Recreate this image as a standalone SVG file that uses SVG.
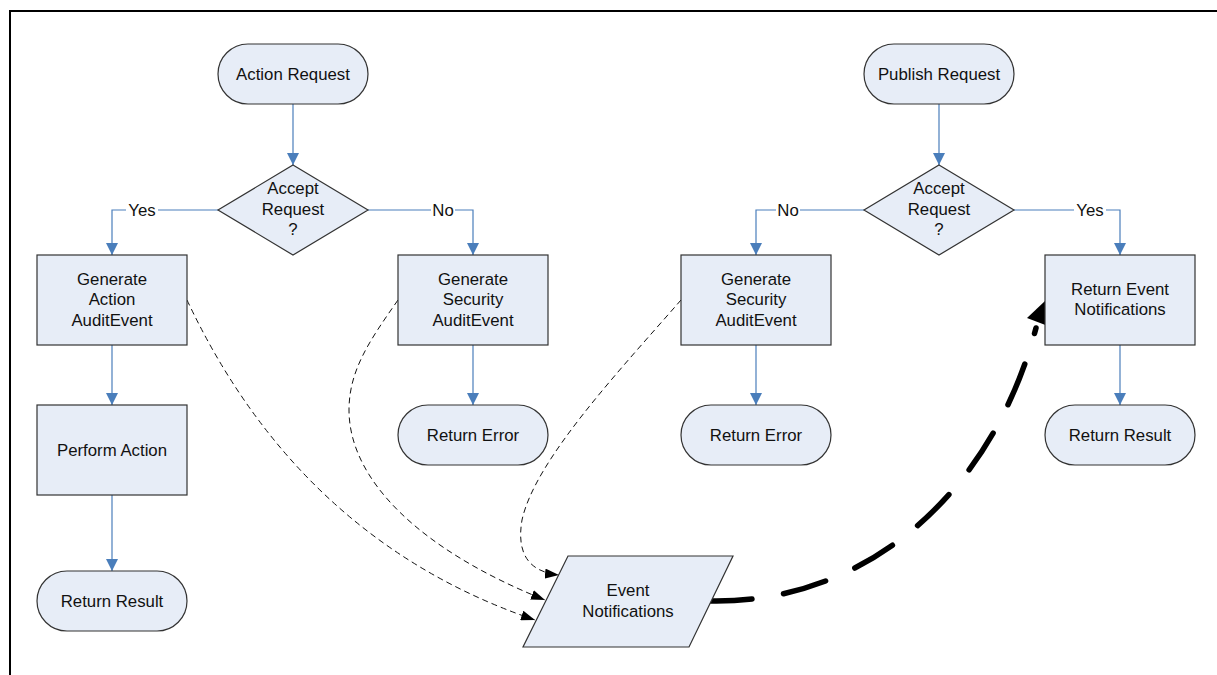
<svg xmlns="http://www.w3.org/2000/svg" width="1217" height="675" viewBox="0 0 1217 675">
<style>
.node{fill:#e7edf7;stroke:#333;stroke-width:1.2}
.t{font-family:"Liberation Sans",Arial,sans-serif;font-size:16.8px;fill:#111;text-anchor:middle}
.blue{fill:none;stroke:#4a7ebb;stroke-width:1.2}
.thin{fill:none;stroke:#111;stroke-width:1;stroke-dasharray:6 4}
.thick{fill:none;stroke:#000;stroke-width:5.5;stroke-linecap:round;stroke-dasharray:44 32}
.lbl{fill:#fff}
</style>
<defs>
<marker id="ab" markerUnits="userSpaceOnUse" markerWidth="12" markerHeight="12" refX="10" refY="5" orient="auto" viewBox="0 0 10 10"><path d="M0,0 L10,5 L0,10 Z" fill="#4a7ebb"/></marker>
<marker id="ak" markerUnits="userSpaceOnUse" markerWidth="14" markerHeight="10" refX="14" refY="5" orient="auto" viewBox="0 0 14 10"><path d="M0,0 L14,5 L0,10 Z" fill="#000"/></marker>
</defs>
<rect x="10" y="11" width="1220" height="680" fill="none" stroke="#000" stroke-width="2"/>

<g id="connectors">
<path class="blue" d="M293,104 V165" marker-end="url(#ab)"/>
<path class="blue" d="M218,210 H112 V255" marker-end="url(#ab)"/>
<path class="blue" d="M368,210 H473 V255" marker-end="url(#ab)"/>
<path class="blue" d="M112,345 V405" marker-end="url(#ab)"/>
<path class="blue" d="M112,495 V571" marker-end="url(#ab)"/>
<path class="blue" d="M473,345 V405" marker-end="url(#ab)"/>
<path class="blue" d="M939,104 V165" marker-end="url(#ab)"/>
<path class="blue" d="M864,210 H756 V255" marker-end="url(#ab)"/>
<path class="blue" d="M1014,210 H1120 V255" marker-end="url(#ab)"/>
<path class="blue" d="M756,345 V405" marker-end="url(#ab)"/>
<path class="blue" d="M1120,345 V405" marker-end="url(#ab)"/>
<rect class="lbl" x="126" y="201" width="32" height="18"/>
<text class="t" x="142" y="216">Yes</text>
<rect class="lbl" x="431" y="201" width="24" height="18"/>
<text class="t" x="443" y="216">No</text>
<rect class="lbl" x="776" y="201" width="24" height="18"/>
<text class="t" x="788" y="216">No</text>
<rect class="lbl" x="1074" y="201" width="32" height="18"/>
<text class="t" x="1090" y="216">Yes</text>
<path class="thin" d="M187,300 Q300,540 535,620" marker-end="url(#ak)"/>
<path class="thin" d="M398,300 C370,340 349,370 349,410 C349,480 420,550 545,600" marker-end="url(#ak)"/>
<path class="thin" d="M681,300 C620,370 535,460 522,520 C516,555 530,572 559,575" marker-end="url(#ak)"/>
<path class="thick" d="M708,601 C860,605 990,500 1036,328"/>
<path d="M1045,301 L1048,326 L1027,318 Z" fill="#000"/>
</g>

<g id="action-request"><rect class="node" x="218" y="44" width="150" height="60" rx="30"/><text class="t" x="293" y="80">Action Request</text></g>
<g id="accept-left"><path class="node" d="M293,165 L368,210 L293,255 L218,210 Z"/><text class="t" x="293" y="194">Accept</text><text class="t" x="293" y="215">Request</text><text class="t" x="293" y="235">?</text></g>
<g id="gen-action"><rect class="node" x="37" y="255" width="150" height="90"/><text class="t" x="112" y="285">Generate</text><text class="t" x="112" y="305">Action</text><text class="t" x="112" y="326">AuditEvent</text></g>
<g id="perform-action"><rect class="node" x="37" y="405" width="150" height="90"/><text class="t" x="112" y="456">Perform Action</text></g>
<g id="return-result-left"><rect class="node" x="37" y="571" width="150" height="60" rx="30"/><text class="t" x="112" y="607">Return Result</text></g>
<g id="gen-security-left"><rect class="node" x="398" y="255" width="150" height="90"/><text class="t" x="473" y="285">Generate</text><text class="t" x="473" y="305">Security</text><text class="t" x="473" y="326">AuditEvent</text></g>
<g id="return-error-left"><rect class="node" x="398" y="405" width="150" height="60" rx="30"/><text class="t" x="473" y="441">Return Error</text></g>
<g id="publish-request"><rect class="node" x="864" y="44" width="150" height="60" rx="30"/><text class="t" x="939" y="80">Publish Request</text></g>
<g id="accept-right"><path class="node" d="M939,165 L1014,210 L939,255 L864,210 Z"/><text class="t" x="939" y="194">Accept</text><text class="t" x="939" y="215">Request</text><text class="t" x="939" y="235">?</text></g>
<g id="gen-security-right"><rect class="node" x="681" y="255" width="150" height="90"/><text class="t" x="756" y="285">Generate</text><text class="t" x="756" y="305">Security</text><text class="t" x="756" y="326">AuditEvent</text></g>
<g id="return-error-right"><rect class="node" x="681" y="405" width="150" height="60" rx="30"/><text class="t" x="756" y="441">Return Error</text></g>
<g id="return-event-notifications"><rect class="node" x="1045" y="255" width="150" height="90"/><text class="t" x="1120" y="295">Return Event</text><text class="t" x="1120" y="315">Notifications</text></g>
<g id="return-result-right"><rect class="node" x="1045" y="405" width="150" height="60" rx="30"/><text class="t" x="1120" y="441">Return Result</text></g>
<g id="event-notifications"><path class="node" d="M568,556 L733,556 L689,647 L523,647 Z"/><text class="t" x="628" y="596">Event</text><text class="t" x="628" y="617">Notifications</text></g>
</svg>
